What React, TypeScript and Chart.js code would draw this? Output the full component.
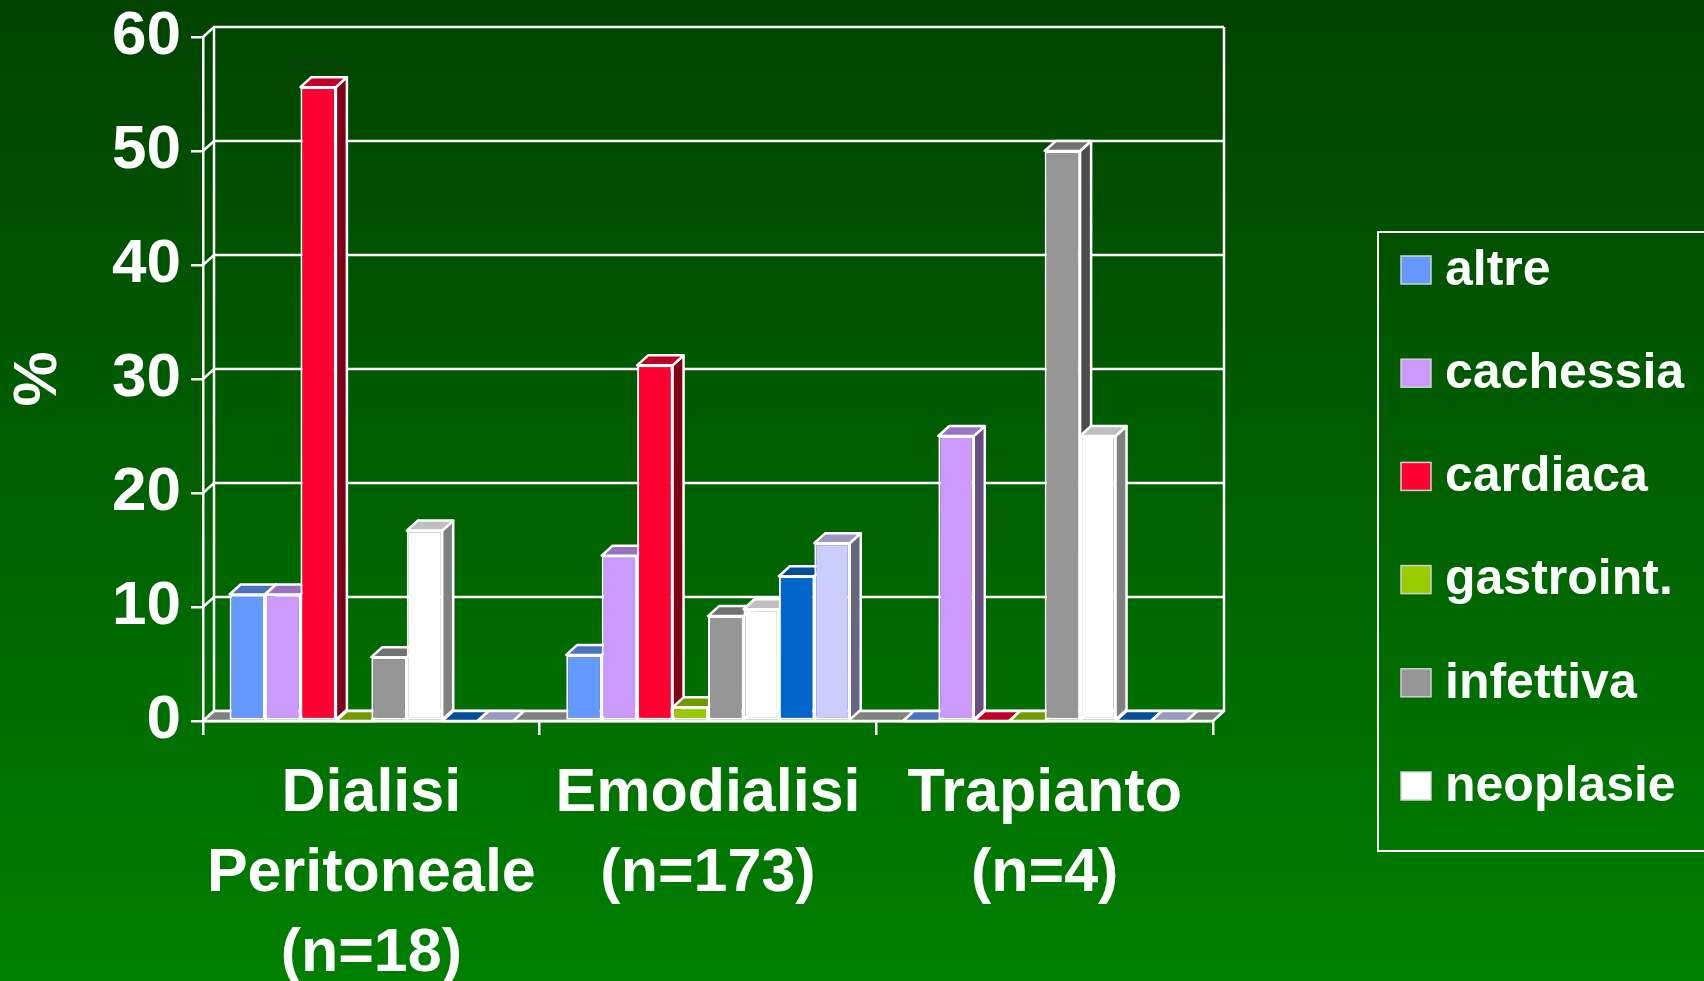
import React, { useEffect, useRef } from "react";
import { Chart, registerables } from "chart.js";

Chart.register(...registerables);

// ---------- data ----------
const categories: string[][] = [
  ["Dialisi", "Peritoneale", "(n=18)"],
  ["Emodialisi", "(n=173)"],
  ["Trapianto", "(n=4)"],
];
const seriesNames = ["altre", "cachessia", "cardiaca", "gastroint.", "infettiva", "neoplasie", "serie 7", "serie 8"];
const altre = [11.1, 5.8, 0];
const cachessia = [11.1, 14.5, 25];
const cardiaca = [55.6, 31.2, 0];
const gastroint = [0, 1.2, 0];
const infettiva = [5.6, 9.2, 50];
const neoplasie = [16.7, 9.8, 25];
const serie7 = [0, 12.7, 0];
const serie8 = [0, 15.6, 0];
const seriesValues = [altre, cachessia, cardiaca, gastroint, infettiva, neoplasie, serie7, serie8];
const seriesColors = ["#6699FF", "#CC99FF", "#FF0033", "#99CC00", "#969696", "#FFFFFF", "#0066CC", "#CCCCFF"];
const legendCount = 6;
const yMin = 0;
const yMax = 60;
const yStep = 10;
const yTitle = "%";

// ---------- style ----------
const W = 1704;
const H = 981;
const FONT = "'Liberation Sans', Arial, sans-serif";
const DX = 11;
const DY = 10;
const LW = 2.5;

function shade(hex: string, f: number): string {
  const n = parseInt(hex.slice(1), 16);
  const r = Math.round(((n >> 16) & 255) * f);
  const g = Math.round(((n >> 8) & 255) * f);
  const b = Math.round((n & 255) * f);
  return `rgb(${r},${g},${b})`;
}

function poly(ctx: CanvasRenderingContext2D, pts: number[][], fill: string | null, stroke = "#FFFFFF", lw = LW) {
  ctx.beginPath();
  ctx.moveTo(pts[0][0], pts[0][1]);
  for (let i = 1; i < pts.length; i++) ctx.lineTo(pts[i][0], pts[i][1]);
  ctx.closePath();
  if (fill) {
    ctx.fillStyle = fill;
    ctx.fill();
  }
  ctx.lineWidth = lw;
  ctx.strokeStyle = stroke;
  ctx.lineJoin = "round";
  ctx.stroke();
}

const threeDPlugin = {
  id: "threeD",
  beforeDraw(chart: any) {
    const ctx = chart.ctx as CanvasRenderingContext2D;
    const g = ctx.createLinearGradient(0, 0, 0, chart.height);
    g.addColorStop(0, "#004200");
    g.addColorStop(1, "#007F00");
    ctx.save();
    ctx.fillStyle = g;
    ctx.fillRect(0, 0, chart.width, chart.height);
    ctx.restore();
  },
  beforeDatasetsDraw(chart: any) {
    const ctx = chart.ctx as CanvasRenderingContext2D;
    const { left, right, top, bottom } = chart.chartArea;
    const ys = chart.scales.y;
    ctx.save();
    ctx.lineWidth = LW;
    ctx.strokeStyle = "#FFFFFF";
    // back wall gridlines + connectors
    for (let v = yMin; v <= yMax; v += yStep) {
      const y = ys.getPixelForValue(v);
      ctx.beginPath();
      ctx.moveTo(left, y);
      ctx.lineTo(left + DX, y - DY);
      ctx.lineTo(right + DX, y - DY);
      ctx.stroke();
    }
    ctx.beginPath();
    ctx.moveTo(left + DX, top - DY);
    ctx.lineTo(left + DX, bottom - DY);
    ctx.moveTo(right + DX, top - DY);
    ctx.lineTo(right + DX, bottom - DY);
    ctx.stroke();
    // floor
    poly(ctx, [[left, bottom], [right, bottom], [right + DX, bottom - DY], [left + DX, bottom - DY]], "#808080");
    // side and top faces, drawn left to right
    const n = chart.data.labels.length;
    const nd = chart.data.datasets.length;
    for (let j = 0; j < n; j++) {
      for (let i = 0; i < nd; i++) {
        const meta = chart.getDatasetMeta(i);
        const el = meta.data[j];
        if (!el) continue;
        const p = el.getProps(["x", "y", "base", "width"], true);
        const x0 = p.x - p.width / 2;
        const x1 = p.x + p.width / 2;
        const yt = p.y;
        const base = p.base;
        const col = seriesColors[i];
        if (base - yt > 0.5) {
          poly(ctx, [[x1, yt], [x1 + DX, yt - DY], [x1 + DX, base - DY], [x1, base]], shade(col, 0.5));
        }
        poly(ctx, [[x0, yt], [x1, yt], [x1 + DX, yt - DY], [x0 + DX, yt - DY]], shade(col, 0.75));
      }
    }
    ctx.restore();
  },
  afterDraw(chart: any) {
    const ctx = chart.ctx as CanvasRenderingContext2D;
    ctx.save();
    // legend frame
    ctx.lineWidth = 2;
    ctx.strokeStyle = "#FFFFFF";
    ctx.strokeRect(1378, 232, W - 1378 + 20, 851 - 232);
    ctx.font = `bold 50px ${FONT}`;
    ctx.textBaseline = "middle";
    ctx.textAlign = "left";
    for (let i = 0; i < legendCount; i++) {
      const cy = 270 + i * 103.2;
      ctx.fillStyle = seriesColors[i];
      ctx.fillRect(1401, cy - 14, 30, 28);
      ctx.lineWidth = 1.5;
      ctx.strokeStyle = "#D0D0D0";
      ctx.strokeRect(1401, cy - 14, 30, 28);
      ctx.fillStyle = "#FFFFFF";
      ctx.fillText(chart.data.datasets[i].label, 1445, cy + 1);
    }
    ctx.restore();
  },
};

export default function App() {
  const ref = useRef<HTMLCanvasElement | null>(null);
  useEffect(() => {
    if (!ref.current) return;
    const chart = new Chart(ref.current, {
      type: "bar",
      data: {
        labels: categories,
        datasets: seriesValues.map((vals, i) => ({
          label: seriesNames[i],
          data: vals,
          backgroundColor: seriesColors[i],
          borderColor: "#FFFFFF",
          borderWidth: 2,
          borderSkipped: false,
          categoryPercentage: 8 / 9.5,
          barPercentage: 1,
        })),
      },
      options: {
        responsive: false,
        animation: false,
        devicePixelRatio: 1,
        layout: { padding: { top: 37, right: W - 1213, bottom: 0, left: 0 } },
        plugins: { legend: { display: false }, tooltip: { enabled: false } },
        scales: {
          x: {
            offset: true,
            grid: { display: true, drawOnChartArea: false, drawTicks: true, tickLength: 14, color: "#FFFFFF", lineWidth: LW, offset: true },
            border: { display: true, color: "#FFFFFF", width: LW },
            ticks: {
              color: "#FFFFFF",
              font: { family: FONT, size: 61, weight: "bold", lineHeight: 1.31 },
              padding: 19,
              maxRotation: 0,
              minRotation: 0,
              autoSkip: false,
            },
            afterFit(scale: any) {
              scale.height = H - 721;
              scale.paddingLeft = 0;
              scale.paddingRight = 0;
            },
          },
          y: {
            min: yMin,
            max: yMax,
            grid: { display: true, drawOnChartArea: false, drawTicks: true, tickLength: 12, color: "#FFFFFF", lineWidth: LW },
            border: { display: true, color: "#FFFFFF", width: LW },
            ticks: {
              stepSize: yStep,
              color: "#FFFFFF",
              font: { family: FONT, size: 62, weight: "bold" },
              padding: 10,
            },
            title: {
              display: true,
              text: yTitle,
              color: "#FFFFFF",
              font: { family: FONT, size: 62, weight: "bold" },
              padding: { top: 2, bottom: 0 },
            },
            afterFit(scale: any) {
              scale.width = 203;
              scale.paddingTop = 0;
              scale.paddingBottom = 0;
            },
          },
        },
      },
      plugins: [threeDPlugin],
    } as any);
    return () => chart.destroy();
  }, []);
  return (
    <div style={{ position: "absolute", left: 0, top: 0, width: W, height: H, overflow: "hidden" }}>
      <canvas ref={ref} width={W} height={H} style={{ display: "block", width: W, height: H }} />
    </div>
  );
}
